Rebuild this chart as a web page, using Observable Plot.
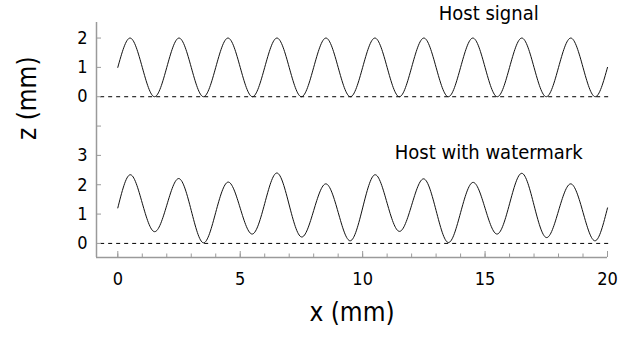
<!DOCTYPE html>
<html>
<head>
<meta charset="utf-8">
<script src="https://cdn.jsdelivr.net/npm/d3@7"></script>
<script src="https://cdn.jsdelivr.net/npm/@observablehq/plot@0.6"></script>
<style>
  html, body { margin: 0; padding: 0; background: #fff; }
  svg { display: block; font-stretch: condensed; }
</style>
</head>
<body>
<div id="chart"></div>
<script>
// ---- data ----
const xPositions = [0,0.5,1,1.5,2,2.5,3,3.5,4,4.5,5,5.5,6,6.5,7,7.5,8,8.5,9,9.5,10,10.5,11,11.5,12,12.5,13,13.5,14,14.5,15,15.5,16,16.5,17,17.5,18,18.5,19,19.5,20];
const hostZ = [1,2,1,0,1,2,1,0,1,2,1,0,1,2,1,0,1,2,1,0,1,2,1,0,1,2,1,0,1,2,1,0,1,2,1,0,1,2,1,0,1];
const watermarkZ = [1.21,2.34,1.37,0.40,1.30,2.21,1.12,0.02,1.06,2.09,1.20,0.32,1.36,2.40,1.31,0.22,1.12,2.03,1.06,0.09,1.21,2.34,1.37,0.41,1.30,2.20,1.12,0.03,1.05,2.08,1.20,0.32,1.35,2.39,1.30,0.20,1.11,2.03,1.06,0.09,1.21];
const panelTitles = ["Host signal", "Host with watermark"];
const xMajorTicks = [0,5,10,15,20];
const xMinorTicks = [0,1,2,3,4,5,6,7,8,9,10,11,12,13,14,15,16,17,18,19,20];
const yTicks = [0,1,2,3,4,5,6,7];
const yTickLabels = ["0","1","2","3","","0","1","2"];
const xLabel = "x (mm)";
const yLabel = "z (mm)";

// ---- layout ----
const topOffset = 5; // upper panel drawn shifted up by 5 units on the shared axis
const xDomain = [-0.87, 20];
const yDomain = [-0.48, 7.53];
const font = "'DejaVu Sans Condensed', 'DejaVu Sans', sans-serif";
const axisGray = "#9a9a9a";

const hostRows = xPositions.map((x, i) => ({x, z: hostZ[i] + topOffset}));
const markRows = xPositions.map((x, i) => ({x, z: watermarkZ[i]}));
const titleRows = [
  {label: panelTitles[0], x: 15.15, z: 7.83},
  {label: panelTitles[1], x: 15.15, z: 3.1}
];

const chart = Plot.plot({
  width: 638,
  height: 347,
  marginLeft: 96,
  marginRight: 31,
  marginTop: 22,
  marginBottom: 90,
  style: {fontFamily: font, background: "#fff", color: "#000"},
  x: {domain: xDomain, axis: null},
  y: {domain: yDomain, axis: null},
  marks: [
    Plot.ruleY([0, topOffset], {x1: -0.7, x2: 20.2, stroke: "#000", strokeWidth: 1, strokeDasharray: "4,4"}),
    Plot.line(hostRows, {x: "x", y: "z", curve: "natural", stroke: "#111", strokeWidth: 1}),
    Plot.line(markRows, {x: "x", y: "z", curve: "natural", stroke: "#111", strokeWidth: 1}),
    Plot.ruleX([xDomain[0]], {stroke: axisGray, strokeWidth: 1.5}),
    Plot.ruleY([yDomain[0]], {stroke: axisGray, strokeWidth: 1.5}),
    Plot.axisX(xMinorTicks, {anchor: "bottom", tickSize: -3.5, stroke: axisGray, label: null, tickFormat: () => ""}),
    Plot.axisX(xMajorTicks, {anchor: "bottom", tickSize: -6, tickPadding: 21, stroke: axisGray, fill: "#000", fontSize: 18, label: null, tickFormat: d => String(d)}),
    Plot.axisY(yTicks, {anchor: "left", tickSize: -5, tickPadding: 14, stroke: axisGray, fill: "#000", fontSize: 18, label: null, tickFormat: d => yTickLabels[yTicks.indexOf(d)]}),
    Plot.text(titleRows, {x: "x", y: "z", text: "label", fontSize: 20, fill: "#000", textAnchor: "middle"}),
    Plot.text([xLabel], {frameAnchor: "bottom", dy: 63, fontSize: 26, fill: "#000"}),
    Plot.text([yLabel], {frameAnchor: "left", dx: -69, rotate: -90, fontSize: 26, fill: "#000"})
  ]
});
document.getElementById("chart").appendChild(chart);
</script>
</body>
</html>
